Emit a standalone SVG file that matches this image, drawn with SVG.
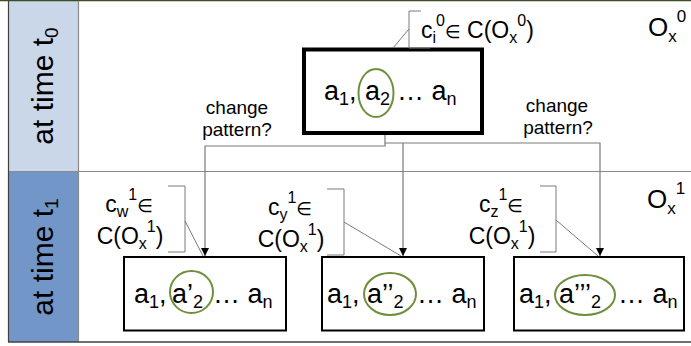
<svg xmlns="http://www.w3.org/2000/svg" width="691" height="346" viewBox="0 0 691 346">
<defs>
<style>
.t{font-family:"Liberation Sans","DejaVu Sans",sans-serif;fill:#000}
.big{font-size:27px}
.lab{font-size:23px}
.cp{font-size:19px}
.side{font-size:30px}
.box{fill:#fff;stroke:#000;stroke-width:2}
.ring{fill:none;stroke:#6f8f3c;stroke-width:2}
.ln{fill:none;stroke:#7a7a7a;stroke-width:1}
.con{fill:none;stroke:#7a7a7a;stroke-width:1.2}
</style>
<marker id="ah" markerUnits="userSpaceOnUse" markerWidth="9" markerHeight="9" refX="8" refY="4" orient="auto">
<path d="M0,0 L8,4 L0,8 z" fill="#000"/>
</marker>
</defs>
<rect x="0" y="0" width="691" height="346" fill="#fff"/>
<g id="frame">
<rect x="8" y="1" width="71" height="171" fill="#c9d7e8"/>
<rect x="8" y="172" width="71" height="170" fill="#7396c8"/>
<line x1="0" y1="0.5" x2="691" y2="0.5" stroke="#3e4d27" stroke-width="1.5"/>
<line x1="8" y1="171.5" x2="691" y2="171.5" stroke="#8a8a8a" stroke-width="1.2"/>
<line x1="78.5" y1="1" x2="78.5" y2="342" stroke="#8a8a8a" stroke-width="1.2"/>
<line x1="8.5" y1="1" x2="8.5" y2="342" stroke="#404040" stroke-width="1.2"/>
<line x1="8" y1="342" x2="691" y2="342" stroke="#404040" stroke-width="1.5"/>
<text class="t side" transform="translate(53,86) rotate(-90)" text-anchor="middle">at time t<tspan font-size="19" dy="5">0</tspan></text>
<text class="t side" transform="translate(53,257) rotate(-90)" text-anchor="middle">at time t<tspan font-size="19" dy="5">1</tspan></text>
<text class="t" x="648" y="36" font-size="26">O<tspan font-size="17" dy="6">x</tspan><tspan font-size="17" dy="-20">0</tspan></text>
<text class="t" x="647" y="208" font-size="26">O<tspan font-size="17" dy="6">x</tspan><tspan font-size="17" dy="-20">1</tspan></text>
</g>
<g id="connectors">
<path class="con" d="M385,114 V146 H205 V256" marker-end="url(#ah)"/>
<path class="con" d="M385,143 H600 V256" marker-end="url(#ah)"/>
<path class="con" d="M403,143 V256" marker-end="url(#ah)"/>
<text class="t cp" x="237" y="114" text-anchor="middle">change</text>
<text class="t cp" x="237" y="136" text-anchor="middle">pattern?</text>
<text class="t cp" x="557" y="112" text-anchor="middle">change</text>
<text class="t cp" x="558" y="134" text-anchor="middle">pattern?</text>
</g>
<g id="node-top">
<rect x="304" y="49.5" width="178" height="83.5" fill="#fff" stroke="#000" stroke-width="4"/>
<ellipse class="ring" cx="376" cy="93" rx="17.5" ry="24"/>
<text class="t big" x="324" y="100">a<tspan font-size="18" dy="5">1</tspan><tspan dy="-5">,</tspan></text>
<text class="t big" x="365" y="100">a<tspan font-size="18" dy="5">2</tspan></text>
<text class="t big" x="397" y="100">… a<tspan font-size="18" dy="5">n</tspan></text>
</g>
<g id="callout-top">
<path class="ln" d="M421,11 H409 V48 H430 M409,29 L393,48"/>
<text class="t lab" x="421" y="38">c<tspan font-size="16" dy="5">i</tspan><tspan font-size="16" dy="-17">0</tspan><tspan font-size="18" dy="12">∈</tspan> C(O<tspan font-size="16" dy="5">x</tspan><tspan font-size="16" dy="-17">0</tspan><tspan dy="12">)</tspan></text>
</g>
<g id="callout-w">
<path class="ln" d="M168,186 H185 V252 H168 M185,221 L203,256"/>
<text class="t lab" x="129" y="212" text-anchor="middle">c<tspan font-size="16" dy="5">w</tspan><tspan font-size="16" dy="-17">1</tspan><tspan font-size="18" dy="12">∈</tspan></text>
<text class="t lab" x="130" y="244" text-anchor="middle">C(O<tspan font-size="16" dy="5">x</tspan><tspan font-size="16" dy="-17">1</tspan><tspan dy="12">)</tspan></text>
</g>
<g id="callout-y">
<path class="ln" d="M327,189 H344 V255 H327 M344,222 L401,256"/>
<text class="t lab" x="290" y="215" text-anchor="middle">c<tspan font-size="16" dy="5">y</tspan><tspan font-size="16" dy="-17">1</tspan><tspan font-size="18" dy="12">∈</tspan></text>
<text class="t lab" x="291" y="247" text-anchor="middle">C(O<tspan font-size="16" dy="5">x</tspan><tspan font-size="16" dy="-17">1</tspan><tspan dy="12">)</tspan></text>
</g>
<g id="callout-z">
<path class="ln" d="M540,186 H556 V252 H540 M556,220 L598,256"/>
<text class="t lab" x="501" y="212" text-anchor="middle">c<tspan font-size="16" dy="5">z</tspan><tspan font-size="16" dy="-17">1</tspan><tspan font-size="18" dy="12">∈</tspan></text>
<text class="t lab" x="502" y="244" text-anchor="middle">C(O<tspan font-size="16" dy="5">x</tspan><tspan font-size="16" dy="-17">1</tspan><tspan dy="12">)</tspan></text>
</g>
<g id="node-1">
<rect class="box" x="124" y="257" width="162" height="73.5"/>
<ellipse class="ring" cx="191.5" cy="292" rx="21.5" ry="21"/>
<text class="t big" x="134" y="303">a<tspan font-size="18" dy="5">1</tspan><tspan dy="-5">,</tspan></text>
<text class="t big" x="172" y="303">a’<tspan font-size="18" dy="5">2</tspan></text>
<text class="t big" x="213" y="303">… a<tspan font-size="18" dy="5">n</tspan></text>
</g>
<g id="node-2">
<rect class="box" x="322" y="257" width="162" height="73.5"/>
<ellipse class="ring" cx="390" cy="294" rx="26" ry="21"/>
<text class="t big" x="327" y="303">a<tspan font-size="18" dy="5">1</tspan><tspan dy="-5">,</tspan></text>
<text class="t big" x="367" y="303">a’’<tspan font-size="18" dy="5">2</tspan></text>
<text class="t big" x="417" y="303">… a<tspan font-size="18" dy="5">n</tspan></text>
</g>
<g id="node-3">
<rect class="box" x="514" y="257" width="170" height="73.5"/>
<ellipse class="ring" cx="585" cy="295" rx="30" ry="20"/>
<text class="t big" x="519" y="303">a<tspan font-size="18" dy="5">1</tspan><tspan dy="-5">,</tspan></text>
<text class="t big" x="559" y="303">a’’’<tspan font-size="18" dy="5">2</tspan></text>
<text class="t big" x="618" y="303">… a<tspan font-size="18" dy="5">n</tspan></text>
</g>
</svg>
